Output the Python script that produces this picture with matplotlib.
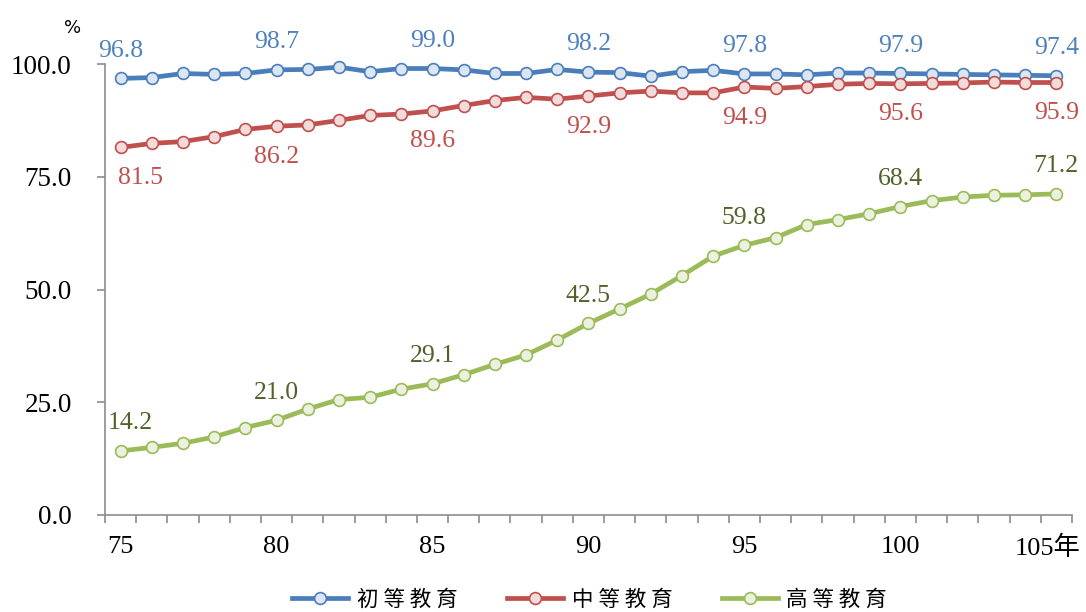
import matplotlib
matplotlib.use("Agg")
import matplotlib.pyplot as plt
import matplotlib.transforms as mtransforms
from matplotlib.ticker import FixedLocator

# ---------------------------------------------------------------------------
# Data (民國年, %)
# ---------------------------------------------------------------------------
years = list(range(75, 106))

primary = [96.8, 97.0, 97.9, 97.7, 97.9, 98.7, 98.8, 99.3, 98.3, 99.0,
           99.0, 98.7, 97.9, 97.9, 98.8, 98.2, 98.1, 97.3, 98.3, 98.6,
           97.8, 97.8, 97.6, 98.0, 98.0, 97.9, 97.8, 97.7, 97.6, 97.5,
           97.4]
secondary = [81.5, 82.4, 82.8, 83.9, 85.5, 86.2, 86.5, 87.5, 88.6, 88.9,
             89.6, 90.8, 91.9, 92.6, 92.2, 92.9, 93.6, 94.0, 93.6, 93.6,
             94.9, 94.6, 95.0, 95.5, 95.7, 95.6, 95.7, 95.8, 96.0, 95.9,
             95.9]
tertiary = [14.2, 15.0, 15.9, 17.3, 19.4, 21.0, 23.5, 25.6, 26.1, 27.9,
            29.1, 31.1, 33.4, 35.5, 38.8, 42.5, 45.7, 49.0, 53.1, 57.4,
            59.8, 61.5, 64.4, 65.5, 66.8, 68.4, 69.7, 70.5, 70.9, 71.0,
            71.2]

label_years = [75, 80, 85, 90, 95, 100, 105]
tick_labels = ["75", "80", "85", "90", "95", "100", "105年"]
y_ticks = [0, 25, 50, 75, 100]

# name, values, line colour, face colour, label colour, label offset (pt),
# extra x shift (pt) of the first label so it clears the y axis
SERIES = [
    ("初 等 教 育", primary,   "#4A7EBB", "#DCE6F2", "#4F81BD", 20, 0),
    ("中 等 教 育", secondary, "#C0504D", "#F2DCDB", "#C0504D", -22, 14),
    ("高 等 教 育", tertiary,  "#9BBB59", "#EBF1DE", "#4F6228", 20, 7),
]

SERIF = "Liberation Serif"
CJK = ["Noto Sans CJK TC", "DejaVu Sans"]

fig = plt.figure(figsize=(10.86, 6.12), dpi=100)
ax = fig.add_axes([0.0967, 0.1585, 0.8903, 0.7369])

for name, vals, lc, fc, tc, dy, dx0 in SERIES:
    ax.plot(years, vals, color=lc, linewidth=3.4, marker="o", markersize=8.5,
            markerfacecolor=fc, markeredgecolor=lc, markeredgewidth=1.2,
            label=name, clip_on=False, zorder=3)
    for yr in label_years:
        v = vals[years.index(yr)]
        dx = dx0 if yr == label_years[0] else 0
        ax.annotate(f"{v:.1f}", (yr, v), xytext=(dx, dy), textcoords="offset points",
                    ha="center", va="center", color=tc, fontsize=18.5, family=SERIF)

ax.set_xlim(74.5, 105.5)
ax.set_ylim(0, 100)

for side in ("top", "right"):
    ax.spines[side].set_visible(False)
for side in ("left", "bottom"):
    ax.spines[side].set_color("#8C8C8C")
    ax.spines[side].set_linewidth(1.2)

ax.set_yticks(y_ticks)
ax.set_yticklabels([f"{v:.1f}" for v in y_ticks], family=SERIF, fontsize=19.5)
ax.tick_params(axis="y", length=6, width=1.2, color="#8C8C8C", pad=18)

ax.set_xticks(label_years)
ax.set_xticklabels(tick_labels, family=["Liberation Serif", "Noto Sans CJK TC"], fontsize=19)
ax.xaxis.set_minor_locator(FixedLocator([y - 0.5 for y in years] + [105.5]))
ax.tick_params(axis="x", which="major", length=0, pad=15)
ax.tick_params(axis="x", which="minor", length=6, width=1.2, color="#8C8C8C")

# nudge the last label ("105年") left so it stays inside the figure
last = ax.get_xticklabels()[-1]
last.set_transform(last.get_transform() +
                   mtransforms.ScaledTranslation(-9 / 100, 0, fig.dpi_scale_trans))

fig.text(0.067, 0.955, "%", fontsize=13, family="DejaVu Sans", ha="center", va="center")

leg = fig.legend(loc="lower center", bbox_to_anchor=(0.543, -0.03), ncol=3,
                 frameon=False, prop={"family": CJK, "size": 15.5},
                 handlelength=2.6, columnspacing=2.3, handletextpad=0.4)

fig.savefig("out.png", dpi=100)
